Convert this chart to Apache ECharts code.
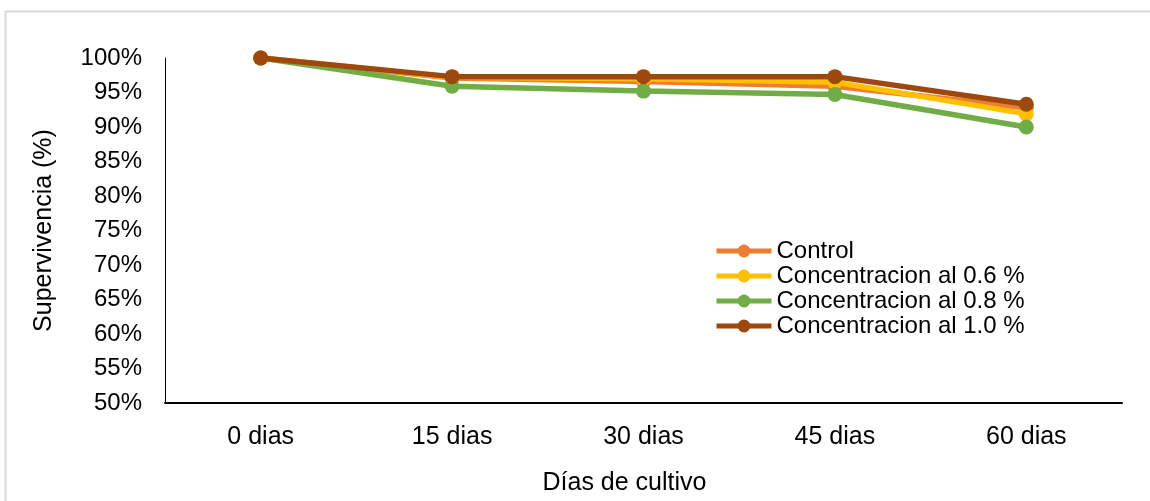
<!DOCTYPE html>
<html>
<head>
<meta charset="utf-8">
<script src="https://cdn.jsdelivr.net/npm/echarts@6/dist/echarts.min.js"></script>
<style>
  html, body { margin: 0; padding: 0; background: #fff; }
  #chart { width: 1150px; height: 501px; }
</style>
</head>
<body>
<div id="chart"></div>
<script>
// Survival (%) by culture day for each treatment
const categories = ['0 dias', '15 dias', '30 dias', '45 dias', '60 dias'];
const seriesNames = ['Control', 'Concentracion al 0.6 %', 'Concentracion al 0.8 %', 'Concentracion al 1.0 %'];
const control = [100, 97.1, 96.6, 95.9, 92.8];
const conc06 = [100, 97.2, 97.0, 96.5, 91.9];
const conc08 = [100, 95.9, 95.2, 94.7, 90.0];
const conc10 = [100, 97.3, 97.3, 97.3, 93.3];
const seriesValues = [control, conc06, conc08, conc10];
const colors = ['#ED7D31', '#FFC000', '#70AD47', '#9E480E'];

const FONT = 'Liberation Sans, Arial, sans-serif';
const chart = echarts.init(document.getElementById('chart'), null, { renderer: 'canvas' });

chart.setOption({
  animation: false,
  backgroundColor: '#ffffff',
  graphic: [{
    type: 'rect',
    shape: { x: 5.5, y: 11.5, width: 1200, height: 600 },
    style: { fill: 'none', stroke: '#d9d9d9', lineWidth: 2 },
    silent: true
  }],
  grid: { left: 165, right: 28, top: 58, bottom: 93, containLabel: false },
  legend: {
    orient: 'vertical',
    left: 714,
    top: 239,
    padding: 0,
    itemWidth: 55,
    itemHeight: 16,
    itemGap: 1,
    data: seriesNames,
    lineStyle: { width: 5 },
    textStyle: { fontFamily: FONT, fontSize: 24, color: '#000', lineHeight: 24 }
  },
  xAxis: {
    type: 'category',
    data: categories,
    boundaryGap: true,
    axisLine: { show: true, lineStyle: { color: '#000', width: 2 } },
    axisTick: { show: false },
    axisLabel: { color: '#000', fontFamily: FONT, fontSize: 25, margin: 22 },
    name: 'Días de cultivo',
    nameLocation: 'middle',
    nameGap: 68,
    nameTextStyle: { color: '#000', fontFamily: FONT, fontSize: 25, padding: [0, 38, 0, 0] }
  },
  yAxis: {
    type: 'value',
    min: 50,
    max: 100,
    interval: 5,
    axisLine: { show: true, lineStyle: { color: '#000', width: 1 } },
    axisTick: { show: false },
    splitLine: { show: false },
    axisLabel: { color: '#000', fontFamily: FONT, fontSize: 24, margin: 23, formatter: '{value}%' },
    name: 'Supervivencia (%)',
    nameLocation: 'middle',
    nameGap: 108,
    nameTextStyle: { color: '#000', fontFamily: FONT, fontSize: 25 }
  },
  series: seriesNames.map((name, i) => ({
    name: name,
    type: 'line',
    data: seriesValues[i],
    symbol: 'circle',
    symbolSize: 15,
    lineStyle: { color: colors[i], width: 5.5 },
    itemStyle: { color: colors[i] },
    z: 2 + i
  }))
});
</script>
</body>
</html>
